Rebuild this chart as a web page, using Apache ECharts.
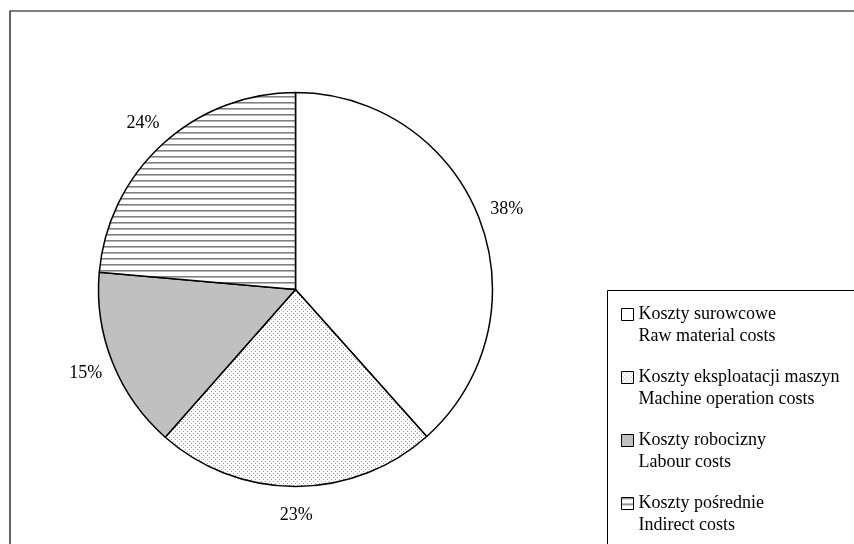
<!DOCTYPE html>
<html>
<head>
<meta charset="utf-8">
<script src="https://cdn.jsdelivr.net/npm/echarts@6/dist/echarts.min.js"></script>
<style>
  html, body { margin: 0; padding: 0; overflow: hidden; background: #fff; width: 854px; height: 544px; }
  #chart { width: 1000px; height: 700px; }
</style>
</head>
<body>
<div id="chart"></div>
<script>
// ---- data ----
var categories = ['Koszty surowcowe', 'Koszty eksploatacji maszyn', 'Koszty robocizny', 'Koszty pośrednie'];
var categoriesEn = ['Raw material costs', 'Machine operation costs', 'Labour costs', 'Indirect costs'];
var shares = [38.4, 23.1, 14.9, 23.6];

// ---- fill patterns ----
function makeDots() {
  var c = document.createElement('canvas'); c.width = 4; c.height = 4;
  var g = c.getContext('2d');
  g.fillStyle = '#fff'; g.fillRect(0, 0, 4, 4);
  g.fillStyle = '#9a9a9a'; g.fillRect(1, 1, 1, 1); g.fillRect(3, 3, 1, 1);
  return c;
}
function makeStripes() {
  var c = document.createElement('canvas'); c.width = 6; c.height = 6;
  var g = c.getContext('2d');
  g.fillStyle = '#fff'; g.fillRect(0, 0, 6, 6);
  g.fillStyle = '#7f7f7f'; g.fillRect(0, 0, 6, 1);
  g.fillStyle = '#b4b4b4'; g.fillRect(0, 1, 6, 1);
  return c;
}
var fills = ['#ffffff', { image: makeDots(), repeat: 'repeat' }, '#c0c0c0', { image: makeStripes(), repeat: 'repeat' }];

var font = '"Liberation Serif", "Times New Roman", serif';
var pieData = categories.map(function (n, i) {
  return { name: n, value: shares[i], itemStyle: { color: fills[i] } };
});
var labelData = categories.map(function (n, i) {
  return { name: n, value: shares[i] };
});

var chart = echarts.init(document.getElementById('chart'), null, { renderer: 'canvas' });
chart.setOption({
  animation: false,
  backgroundColor: '#fff',
  graphic: [
    { type: 'rect', shape: { x: 10, y: 11, width: 2000, height: 2000 }, style: { fill: 'none', stroke: '#000', lineWidth: 1.2 }, silent: true, z: 0 },
    { type: 'rect', shape: { x: 607.5, y: 290.5, width: 2000, height: 2000 }, style: { fill: 'none', stroke: '#000', lineWidth: 1 }, silent: true, z: 0 }
  ],
  legend: {
    orient: 'vertical',
    left: 621,
    top: 283.5,
    padding: 0,
    itemGap: 1,
    itemWidth: 12,
    itemHeight: 12,
    icon: 'rect',
    selectedMode: false,
    data: categories,
    itemStyle: { borderColor: '#000', borderWidth: 1 },
    formatter: function (name) {
      var i = categories.indexOf(name);
      return '{s| }\n{a|' + name + '}\n{a|' + categoriesEn[i] + '}';
    },
    textStyle: {
      fontFamily: font, fontSize: 18, color: '#000',
      rich: {
        s: { fontFamily: font, fontSize: 18, lineHeight: 22 },
        a: { fontFamily: font, fontSize: 18, lineHeight: 22, color: '#000' }
      }
    }
  },
  series: [
    {
      type: 'pie',
      center: [295.5, 289.5],
      radius: 197,
      startAngle: 90,
      clockwise: true,
      silent: true,
      label: { show: false },
      labelLine: { show: false },
      itemStyle: { borderColor: '#000', borderWidth: 1.5 },
      emphasis: { disabled: true },
      data: pieData,
      z: 2
    },
    {
      type: 'pie',
      center: [295.5, 289.5],
      radius: [213, 233],
      startAngle: 90,
      clockwise: true,
      silent: true,
      percentPrecision: 0,
      itemStyle: { color: 'rgba(0,0,0,0)', borderWidth: 0 },
      emphasis: { disabled: true },
      label: {
        show: true, position: 'inside', formatter: '{d}%',
        fontFamily: font, fontSize: 18, color: '#000'
      },
      labelLine: { show: false },
      data: labelData,
      z: 3
    }
  ]
});
</script>
</body>
</html>
